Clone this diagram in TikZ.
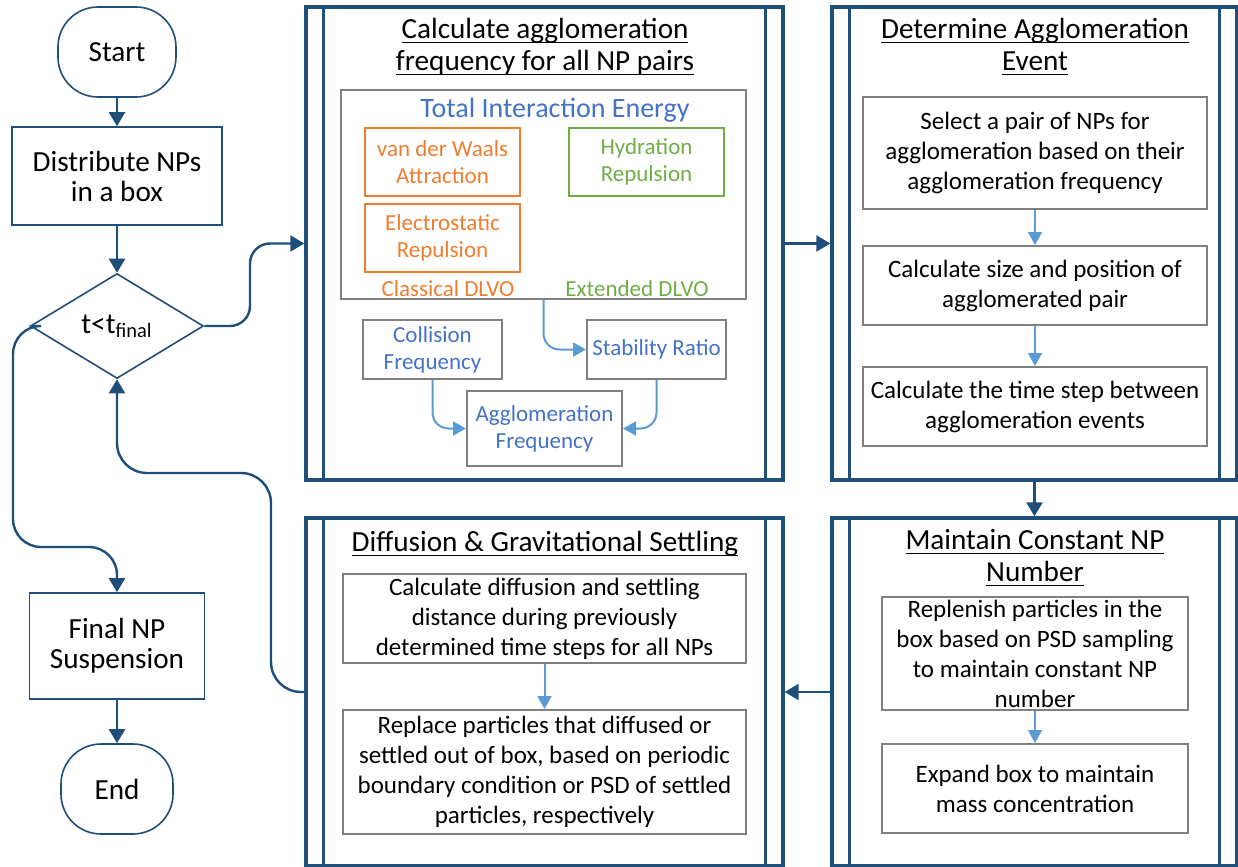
\documentclass[tikz,border=0pt]{standalone}
\usepackage{fontspec}
\setmainfont{Carlito}
\usetikzlibrary{shapes.geometric,arrows.meta}
\definecolor{dkblue}{HTML}{1F4E79}
\definecolor{ltblue}{HTML}{5B9BD5}
\definecolor{txblue}{HTML}{4472C4}
\definecolor{orng}{HTML}{ED7D31}
\definecolor{grn}{HTML}{70AD47}
\definecolor{gry}{HTML}{808080}
\newcommand{\uln}[1]{\leavevmode\setbox0\hbox{#1}\rlap{\rule[-2.3pt]{\wd0}{0.6pt}}\box0}

\begin{document}
\begin{tikzpicture}[x=0.5pt,y=-0.5pt,
    flow/.style={draw=dkblue,line width=.8pt,rectangle,inner sep=0pt,align=center,font=\fontsize{14.6}{15}\selectfont},
    term/.style={flow,rounded corners=20pt},
    procframe/.style={draw=dkblue,line width=1.7pt,inner sep=0pt,minimum width=238.5pt},
    gbox/.style={draw=gry,line width=1pt,inner sep=0pt,align=center,font=\fontsize{12.5}{15}\selectfont},
    sbox/.style={draw=#1,text=#1,line width=1pt,inner sep=0pt,align=center,minimum width=77.5pt,font=\fontsize{11.5}{13.5}\selectfont},
    ttl/.style={align=center,font=\fontsize{14.6}{16}\selectfont},
    conn/.style={draw=dkblue,line width=1.2pt,-{Triangle[width=8pt,length=7pt]}},
    subarrow/.style={draw=ltblue,line width=1pt,-{Triangle[width=7pt,length=6.5pt]}}]
  \useasboundingbox (0,0) rectangle (1238,867);

  % main loop
  \node[term,minimum width=59pt,minimum height=45pt] (start) at (117,52) {Start};
  \node[flow,minimum width=105pt,minimum height=49pt] (distr) at (117,176) {Distribute NPs\\in a box};
  \node[draw=dkblue,line width=.8pt,diamond,aspect=1.65,minimum width=86.5pt,minimum height=52.5pt,
        inner sep=0pt,font=\fontsize{14.6}{15}\selectfont] (dec) at (117,326) {t<t\textsubscript{final}};
  \node[flow,minimum width=87.5pt,minimum height=53pt] (final) at (117,646) {Final NP\\Suspension};
  \node[term,minimum width=56pt,minimum height=45pt] (stop) at (117,789) {End};
  \coordinate (yesbend) at (250,326);
  \coordinate (nobend) at (13,547);
  \coordinate (backbend) at (271,473);

  % sub-processes
  \node[procframe,minimum height=236.5pt] (calc) at (544.5,243.5) {};
  \node[procframe,minimum width=202.5pt,minimum height=236.5pt] (determ) at (1034.5,243.5) {};
  \node[procframe,minimum width=202.5pt,minimum height=174pt] (maint) at (1034.5,692) {};
  \node[procframe,minimum height=174pt] (diffu) at (544.5,692) {};
  \foreach \B in {calc,determ,maint,diffu}{
    \draw[dkblue,line width=1.7pt] ([xshift=9.5pt]\B.north west) -- ([xshift=9.5pt]\B.south west)
      ([xshift=-9.5pt]\B.north east) -- ([xshift=-9.5pt]\B.south east);
  }
  \node[ttl] (calcttl) at (545,47) {\uln{Calculate agglomeration}\\\uln{frequency for all NP pairs}};
  \node[ttl] (determttl) at (1035,47) {\uln{Determine Agglomeration}\\\uln{Event}};
  \node[ttl] (maintttl) at (1035,558) {\uln{Maintain Constant NP}\\\uln{Number}};
  \node[ttl] (diffuttl) at (545,544) {\uln{Diffusion \& Gravitational Settling}};

  % agglomeration frequency
  \node[gbox,minimum width=202.5pt,minimum height=104.5pt] (tie) at (543.5,194.5) {};
  \node[text=txblue,font=\fontsize{14}{16}\selectfont] (tietxt) at (555,110) {Total Interaction Energy};
  \node[sbox=orng,minimum height=34pt] (vdw) at (442.5,162) {van der Waals\\Attraction};
  \node[sbox=orng,minimum height=34pt] (elec) at (442.5,238) {Electrostatic\\Repulsion};
  \node[sbox=grn,minimum height=34pt] (hydr) at (646.5,162) {Hydration\\Repulsion};
  \node[text=orng,font=\fontsize{11.5}{13}\selectfont] (classic) at (448,289) {Classical DLVO};
  \node[text=grn,font=\fontsize{11.5}{13}\selectfont] (extend) at (637,289) {Extended DLVO};
  \node[gbox,text=txblue,font=\fontsize{11.5}{13.5}\selectfont,minimum width=69.5pt,minimum height=29.5pt] (coll) at (432.5,349.5) {Collision\\Frequency};
  \node[gbox,text=txblue,font=\fontsize{11.5}{13.5}\selectfont,minimum width=69.5pt,minimum height=29.5pt] (stab) at (656.5,349.5) {Stability Ratio};
  \node[gbox,text=txblue,font=\fontsize{11.5}{13.5}\selectfont,minimum width=77.5pt,minimum height=37.5pt] (agg) at (544.5,428.5) {Agglomeration\\Frequency};

  % agglomeration event
  \node[gbox,minimum width=172pt,minimum height=56pt] (sel) at (1035,153) {Select a pair of NPs for\\agglomeration based on their\\agglomeration frequency};
  \node[gbox,minimum width=172pt,minimum height=39.5pt] (size) at (1035,285.5) {Calculate size and position of\\agglomerated pair};
  \node[gbox,minimum width=172pt,minimum height=39.5pt] (tstep) at (1035,406.5) {Calculate the time step between\\agglomeration events};

  % constant number
  \node[gbox,minimum width=153pt,minimum height=56.5pt] (repl) at (1035,653.5) {Replenish particles in the\\box based on PSD sampling\\to maintain constant NP\\number};
  \node[gbox,minimum width=153pt,minimum height=44.5pt] (expa) at (1035,788.5) {Expand box to maintain\\mass concentration};

  % diffusion and settling
  \node[gbox,minimum width=201.5pt,minimum height=44.5pt] (cdist) at (544.5,618.5) {Calculate diffusion and settling\\distance during previously\\determined time steps for all NPs};
  \node[gbox,minimum width=201.5pt,minimum height=62pt] (repla) at (544.5,772) {Replace particles that diffused or\\settled out of box, based on periodic\\boundary condition or PSD of settled\\particles, respectively};

  % connectors
  \draw[conn] (start) -- (distr);
  \draw[conn] (distr) -- (dec);
  \draw[conn,rounded corners=10pt] (dec.east) -- (yesbend) |- (calc.west);
  \draw[conn,rounded corners=14pt] (dec.west) -| (nobend) -| (final.north);
  \draw[conn] (final) -- (stop);
  \draw[conn] (calc.east) -- (determ.west);
  \draw[conn] (determ.south) -- (maint.north);
  \draw[conn] (maint.west) -- (diffu.east);
  \draw[conn,rounded corners=15pt] (diffu.west) -| (backbend) -| (dec.south);
  \draw[subarrow,rounded corners=8pt] (tie.south) |- (stab.west);
  \draw[subarrow,rounded corners=8pt] (coll.south) |- (agg.west);
  \draw[subarrow,rounded corners=8pt] (stab.south) |- (agg.east);
  \foreach \A/\C in {sel/size,size/tstep,repl/expa,cdist/repla}{
    \draw[subarrow] (\A) -- (\C);
  }
\end{tikzpicture}
\end{document}
